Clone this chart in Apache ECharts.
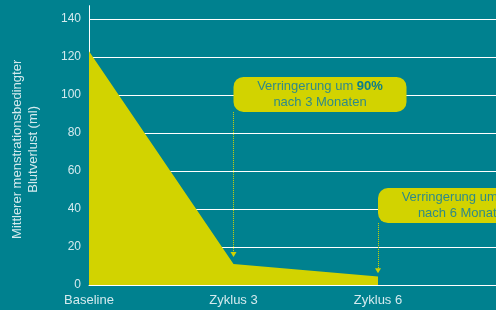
<!DOCTYPE html>
<html>
<head>
<meta charset="utf-8">
<script src="https://cdn.jsdelivr.net/npm/echarts@6/dist/echarts.min.js"></script>
<style>
  html, body { margin: 0; padding: 0; background: #00818f; }
  #chart { width: 496px; height: 310px; }
</style>
</head>
<body>
<div id="chart"></div>
<script>
// Daten
const categories = ["Baseline", "Zyklus 3", "Zyklus 6", ""];
const bloodLoss = [123, 11, 4.5];
const yTicks = [0, 20, 40, 60, 80, 100, 120, 140];

// Hinweise (Kasten + Pfeil)
const notes = [
  { cat: "Zyklus 3", boxValue: 100.3, arrowFrom: 91, arrowTo: 16, pct: "90%", months: "nach 3 Monaten" },
  { cat: "Zyklus 6", boxValue: 41.8, arrowFrom: 32.6, arrowTo: 7.5, pct: "96%", months: "nach 6 Monaten" }
];

const bg = "#00818f";
const yellow = "#d2d300";
const textLight = "#d4eaee";
const font = "'Liberation Sans', Arial, sans-serif";

const chart = echarts.init(document.getElementById("chart"));

chart.setOption({
  backgroundColor: bg,
  animation: false,
  grid: {
    left: 89,
    right: -26.5,
    top: 5.7,
    bottom: 25,
    outerBoundsMode: "none"
  },
  xAxis: {
    type: "category",
    boundaryGap: false,
    data: categories,
    axisLine: { lineStyle: { color: "#ffffff", width: 1 } },
    axisTick: { show: false },
    axisLabel: { color: textLight, fontSize: 13, fontFamily: font, margin: 9 },
    splitLine: { show: false }
  },
  yAxis: {
    type: "value",
    min: 0,
    max: 147,
    interval: 20,
    name: "Mittlerer menstrationsbedingter\nBlutverlust (ml)",
    nameLocation: "middle",
    nameGap: 48,
    nameTextStyle: { color: textLight, fontSize: 13, fontFamily: font, lineHeight: 16, padding: [0, 0, 0, -8] },
    axisLine: { show: true, lineStyle: { color: "#ffffff", width: 1 } },
    axisTick: { show: false },
    axisLabel: {
      color: textLight,
      fontSize: 12,
      fontFamily: font,
      margin: 8,
      showMaxLabel: false,
      formatter: v => (yTicks.indexOf(v) >= 0 ? String(v) : "")
    },
    splitLine: { show: true, showMaxLine: false, lineStyle: { color: "#ffffff", width: 1 } }
  },
  series: [
    {
      type: "line",
      data: bloodLoss,
      symbol: "none",
      lineStyle: { width: 0 },
      areaStyle: { color: yellow, opacity: 1 },
      markLine: {
        silent: true,
        symbol: ["none", "triangle"],
        symbolSize: [6, 5],
        label: { show: false },
        lineStyle: { type: "dotted", color: yellow, width: 1 },
        data: notes.map(n => [
          { coord: [n.cat, n.arrowFrom] },
          { coord: [n.cat, n.arrowTo] }
        ])
      },
      markPoint: {
        silent: true,
        symbol: "circle",
        symbolSize: 0,
        label: {
          show: true,
          position: "inside",
          offset: [86.5, 0],
          backgroundColor: yellow,
          borderRadius: 10,
          width: 155,
          padding: [2, 9],
          align: "center",
          rich: {
            a: { color: "#2f8a88", fontSize: 13, fontFamily: font, lineHeight: 15.5, align: "center" },
            b: { color: "#0b7d8a", fontSize: 13, fontFamily: font, fontWeight: "bold", lineHeight: 15.5 }
          }
        },
        data: notes.map(n => ({
          coord: [n.cat, n.boxValue],
          label: { formatter: "{a|Verringerung um }{b|" + n.pct + "}\n{a|" + n.months + "}" }
        }))
      }
    }
  ]
});
</script>
</body>
</html>
